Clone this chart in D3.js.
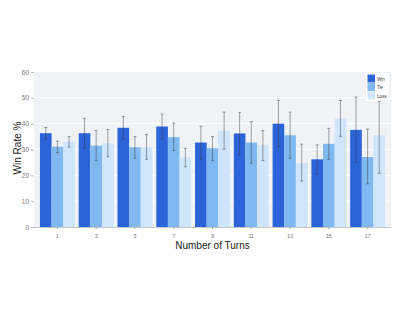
<!DOCTYPE html>
<html>
<head>
  <meta charset="utf-8">
  <script src="https://d3js.org/d3.v7.min.js"></script>
  <style>
    body { margin: 0; background: #fff; }
    svg { display: block; font-family: "Liberation Sans", Arial, sans-serif; }
  </style>
</head>
<body>
  <svg width="407" height="315"></svg>
  <script>
    // data
    var turns = ["1", "3", "5", "7", "9", "11", "13", "15", "17"];
    var series = ["Win", "Tie", "Loss"];
    var colours = ["#2b63d9", "#80b9f1", "#cfe5fb"];

    var winRate  = [36.3, 36.3, 38.4, 38.9, 32.7, 36.2, 40.0, 26.2, 37.6];
    var winLow   = [34.0, 30.5, 34.0, 34.0, 26.2, 28.0, 31.1, 20.5, 25.1];
    var winHigh  = [38.5, 42.1, 42.8, 43.7, 39.0, 44.3, 49.0, 31.8, 50.3];

    var tieRate  = [31.1, 31.5, 30.9, 34.8, 30.5, 32.7, 35.5, 32.2, 27.1];
    var tieLow   = [28.8, 25.7, 26.6, 29.6, 25.8, 24.7, 26.6, 26.2, 16.7];
    var tieHigh  = [33.2, 37.3, 35.0, 40.2, 35.0, 40.8, 44.5, 38.2, 37.9];

    var lossRate = [33.1, 32.4, 30.9, 26.9, 37.3, 31.7, 24.8, 42.0, 35.5];
    var lossLow  = [30.9, 27.2, 26.2, 23.3, 30.1, 25.7, 17.8, 35.1, 20.8];
    var lossHigh = [35.0, 37.7, 35.8, 30.5, 44.5, 37.3, 32.1, 49.0, 48.7];

    var yTicks = [0, 10, 20, 30, 40, 50, 60];

    var rates = [winRate, tieRate, lossRate];
    var lows = [winLow, tieLow, lossLow];
    var highs = [winHigh, tieHigh, lossHigh];

    var svg = d3.select("svg");
    var plotLeft = 34, plotRight = 391, plotTop = 72, plotBottom = 227;

    var x = d3.scaleBand().domain(turns).range([plotLeft + 4, plotRight - 4]).paddingInner(0.1).paddingOuter(0.05);
    var xs = d3.scaleBand().domain(series).range([0, x.bandwidth()]);
    var y = d3.scaleLinear().domain([0, 60]).range([plotBottom, plotTop]);

    // plot background
    svg.append("rect")
      .attr("x", plotLeft).attr("y", plotTop)
      .attr("width", plotRight - plotLeft).attr("height", plotBottom - plotTop)
      .attr("fill", "#eff3f8");

    // gridlines
    svg.append("g").selectAll("line")
      .data(yTicks.filter(function(d) { return d > 0 && d < 60; }))
      .enter().append("line")
      .attr("x1", plotLeft).attr("x2", plotRight)
      .attr("y1", function(d) { return y(d); })
      .attr("y2", function(d) { return y(d); })
      .attr("stroke", "#fff").attr("stroke-width", 1);

    // y axis
    var yAxis = svg.append("g")
      .attr("transform", "translate(" + plotLeft + ",0)")
      .call(d3.axisLeft(y).tickValues(yTicks).tickSize(3).tickPadding(2));
    yAxis.select(".domain").remove();
    yAxis.selectAll(".tick line").attr("stroke", "#bbb");
    yAxis.selectAll("text").attr("fill", "#777").attr("font-size", "6.5px");

    // bars
    var groups = svg.append("g").selectAll("g")
      .data(turns)
      .enter().append("g")
      .attr("transform", function(d) { return "translate(" + x(d) + ",0)"; });

    series.forEach(function(s, si) {
      groups.append("rect")
        .attr("x", xs(s))
        .attr("width", xs.bandwidth())
        .attr("y", function(d, i) { return y(rates[si][i]); })
        .attr("height", function(d, i) { return y(0) - y(rates[si][i]); })
        .attr("fill", colours[si]);
    });

    // error bars
    series.forEach(function(s, si) {
      var cx = xs(s) + xs.bandwidth() / 2;
      var eb = groups.append("g")
        .attr("stroke", "#333").attr("stroke-opacity", 0.45).attr("stroke-width", 1);
      eb.append("line")
        .attr("x1", cx).attr("x2", cx)
        .attr("y1", function(d, i) { return y(lows[si][i]); })
        .attr("y2", function(d, i) { return y(highs[si][i]); });
      eb.append("line")
        .attr("x1", cx - 1.5).attr("x2", cx + 1.5)
        .attr("y1", function(d, i) { return y(lows[si][i]); })
        .attr("y2", function(d, i) { return y(lows[si][i]); });
      eb.append("line")
        .attr("x1", cx - 1.5).attr("x2", cx + 1.5)
        .attr("y1", function(d, i) { return y(highs[si][i]); })
        .attr("y2", function(d, i) { return y(highs[si][i]); });
    });

    // x axis
    var xAxis = svg.append("g")
      .attr("transform", "translate(0," + plotBottom + ")")
      .call(d3.axisBottom(x).tickSize(2).tickPadding(5).tickSizeOuter(0));
    xAxis.select(".domain").attr("stroke", "#c8c8c8").attr("d", "M" + plotLeft + ",0.5H" + plotRight);
    xAxis.selectAll(".tick line").attr("stroke", "#aaa");
    xAxis.selectAll("text").attr("fill", "#777").attr("font-size", "5.5px");

    // axis titles
    svg.append("text")
      .attr("x", (plotLeft + plotRight) / 2).attr("y", 249)
      .attr("text-anchor", "middle")
      .attr("font-size", "10px").attr("fill", "#222")
      .text("Number of Turns");

    svg.append("text")
      .attr("transform", "translate(21,148) rotate(-90)")
      .attr("text-anchor", "middle")
      .attr("font-size", "10px").attr("fill", "#222")
      .text("Win Rate %");

    // legend
    var legend = svg.append("g").attr("transform", "translate(366,73)");
    legend.append("rect")
      .attr("width", 23).attr("height", 28)
      .attr("fill", "#fff");
    series.forEach(function(s, si) {
      legend.append("rect")
        .attr("x", 1.5).attr("y", 1.5 + si * 8.5)
        .attr("width", 7.5).attr("height", 8)
        .attr("fill", colours[si]);
      legend.append("text")
        .attr("x", 11).attr("y", 7.5 + si * 8.5)
        .attr("font-size", "4.5px").attr("fill", "#333")
        .text(s);
    });
  </script>
</body>
</html>
